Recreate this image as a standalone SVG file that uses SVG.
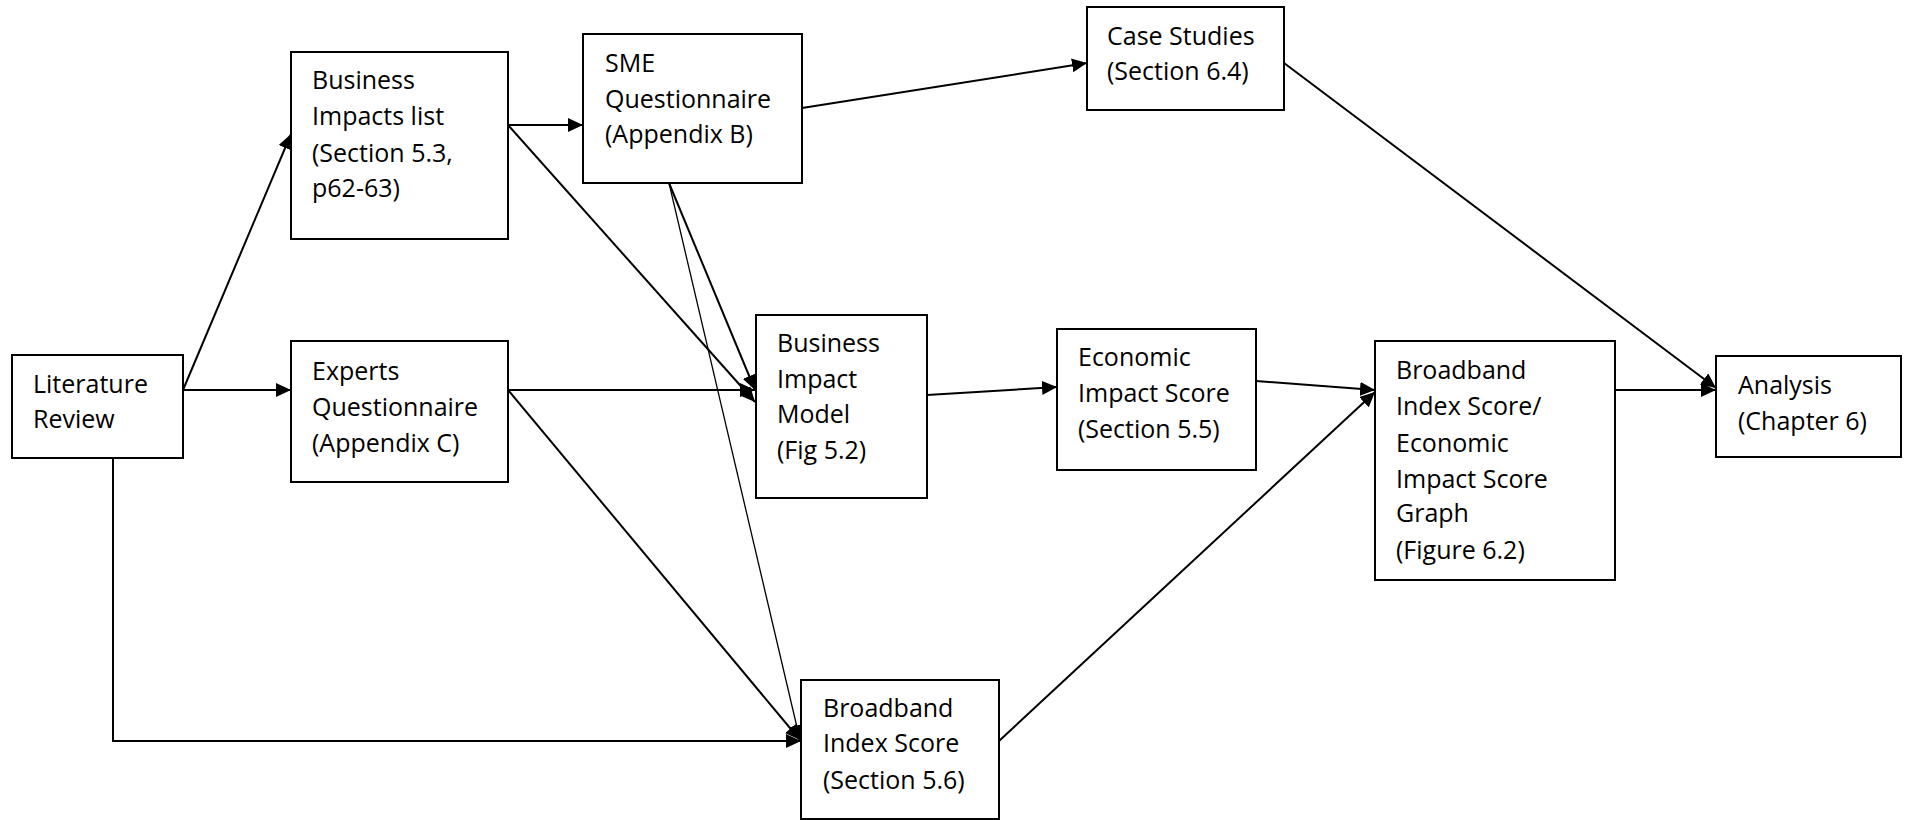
<svg xmlns="http://www.w3.org/2000/svg" width="1906" height="820" viewBox="0 0 1906 820">
<style>
.box{fill:#fff;stroke:#000;stroke-width:2}
.t{font-family:"Open Sans","Noto Sans",sans-serif;font-size:25px;fill:#000}
.c{fill:none;stroke:#000;stroke-width:2}
.thin{fill:none;stroke:#000;stroke-width:1.3}
</style>
<defs>
<marker id="ah" markerUnits="userSpaceOnUse" markerWidth="16" markerHeight="14" refX="15" refY="7" orient="auto" viewBox="0 0 16 14">
<path d="M0,0 L15,7 L0,14 z" fill="#000"/>
</marker>
</defs>
<rect width="1906" height="820" fill="#fff"/>
<g id="connectors">
<line class="c" x1="183" y1="390" x2="291" y2="134" marker-end="url(#ah)"/>
<line class="c" x1="183" y1="390" x2="291" y2="390" marker-end="url(#ah)"/>
<polyline class="c" points="113,458 113,741 801,741" marker-end="url(#ah)"/>
<line class="c" x1="508" y1="125" x2="583" y2="125" marker-end="url(#ah)"/>
<line class="c" x1="508" y1="125" x2="755" y2="402" marker-end="url(#ah)"/>
<line class="c" x1="508" y1="390" x2="755" y2="390" marker-end="url(#ah)"/>
<line class="c" x1="508" y1="390" x2="800" y2="740" marker-end="url(#ah)"/>
<line class="c" x1="802" y1="108" x2="1087" y2="63" marker-end="url(#ah)"/>
<line class="c" x1="669" y1="183" x2="755" y2="390" marker-end="url(#ah)"/>
<line class="thin" x1="669" y1="183" x2="800" y2="740" marker-end="url(#ah)"/>
<line class="c" x1="927" y1="395" x2="1057" y2="387" marker-end="url(#ah)"/>
<line class="c" x1="1256" y1="381" x2="1375" y2="390" marker-end="url(#ah)"/>
<line class="c" x1="999" y1="741" x2="1375" y2="392" marker-end="url(#ah)"/>
<line class="c" x1="1284" y1="63" x2="1716" y2="388" marker-end="url(#ah)"/>
<line class="c" x1="1615" y1="390" x2="1716" y2="390" marker-end="url(#ah)"/>
</g>
<g id="literature-review">
<rect class="box" x="12" y="355" width="171" height="103"/>
<text class="t" x="33" y="393">Literature</text>
<text class="t" x="33" y="428">Review</text>
</g>
<g id="business-impacts-list">
<rect class="box" x="291" y="52" width="217" height="187"/>
<text class="t" x="312" y="89">Business</text>
<text class="t" x="312" y="125">Impacts list</text>
<text class="t" x="312" y="162">(Section 5.3,</text>
<text class="t" x="312" y="197">p62-63)</text>
</g>
<g id="experts-questionnaire">
<rect class="box" x="291" y="341" width="217" height="141"/>
<text class="t" x="312" y="380">Experts</text>
<text class="t" x="312" y="416">Questionnaire</text>
<text class="t" x="312" y="452">(Appendix C)</text>
</g>
<g id="sme-questionnaire">
<rect class="box" x="583" y="34" width="219" height="149"/>
<text class="t" x="605" y="72">SME</text>
<text class="t" x="605" y="108">Questionnaire</text>
<text class="t" x="605" y="143">(Appendix B)</text>
</g>
<g id="business-impact-model">
<rect class="box" x="756" y="315" width="171" height="183"/>
<text class="t" x="777" y="352">Business</text>
<text class="t" x="777" y="388">Impact</text>
<text class="t" x="777" y="423">Model</text>
<text class="t" x="777" y="459">(Fig 5.2)</text>
</g>
<g id="case-studies">
<rect class="box" x="1087" y="7" width="197" height="103"/>
<text class="t" x="1107" y="45">Case Studies</text>
<text class="t" x="1107" y="80">(Section 6.4)</text>
</g>
<g id="economic-impact-score">
<rect class="box" x="1057" y="329" width="199" height="141"/>
<text class="t" x="1078" y="366">Economic</text>
<text class="t" x="1078" y="402">Impact Score</text>
<text class="t" x="1078" y="438">(Section 5.5)</text>
</g>
<g id="broadband-index-score">
<rect class="box" x="801" y="680" width="198" height="139"/>
<text class="t" x="823" y="717">Broadband</text>
<text class="t" x="823" y="752">Index Score</text>
<text class="t" x="823" y="789">(Section 5.6)</text>
</g>
<g id="broadband-economic-graph">
<rect class="box" x="1375" y="341" width="240" height="239"/>
<text class="t" x="1396" y="379">Broadband</text>
<text class="t" x="1396" y="415">Index Score/</text>
<text class="t" x="1396" y="452">Economic</text>
<text class="t" x="1396" y="488">Impact Score</text>
<text class="t" x="1396" y="522">Graph</text>
<text class="t" x="1396" y="559">(Figure 6.2)</text>
</g>
<g id="analysis">
<rect class="box" x="1716" y="356" width="185" height="101"/>
<text class="t" x="1738" y="394">Analysis</text>
<text class="t" x="1738" y="430">(Chapter 6)</text>
</g>
</svg>
